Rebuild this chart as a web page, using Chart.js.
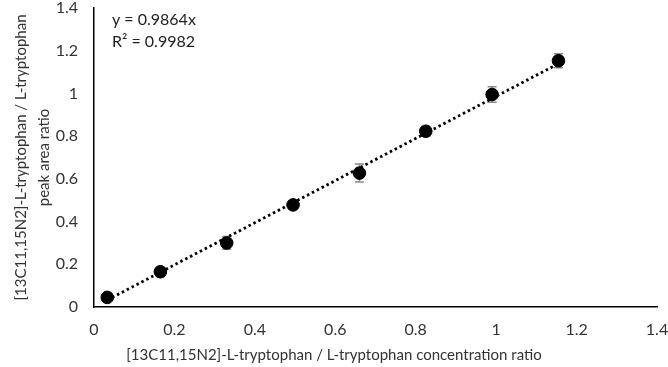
<!DOCTYPE html>
<html>
<head>
<meta charset="utf-8">
<script src="https://cdn.jsdelivr.net/npm/chart.js@4/dist/chart.umd.min.js"></script>
<style>
html,body{margin:0;padding:0;background:#fff;}
#wrap{width:668px;height:367px;position:relative;}
</style>
</head>
<body>
<div id="wrap"><canvas id="c" width="668" height="367"></canvas></div>
<script>
const concRatio = [0.033, 0.165, 0.33, 0.495, 0.66, 0.825, 0.99, 1.155];
const areaRatio = [0.045, 0.165, 0.300, 0.478, 0.627, 0.823, 0.995, 1.153];
const errorSD   = [0.006, 0.010, 0.030, 0.020, 0.042, 0.022, 0.036, 0.033];
const slope = 0.9864;
const rSquared = 0.9982;
const axisTicks = [0, 0.2, 0.4, 0.6, 0.8, 1, 1.2, 1.4];
const xTitle = '[13C11,15N2]-L-tryptophan / L-tryptophan concentration ratio';
const yTitle = ['[13C11,15N2]-L-tryptophan / L-tryptophan', 'peak area ratio'];

const points = concRatio.map((x, i) => ({x: x, y: areaRatio[i], e: errorSD[i]}));
const xMin = Math.min(...concRatio), xMax = Math.max(...concRatio);
const trend = [{x: xMin, y: slope * xMin}, {x: xMax, y: slope * xMax}];

const FONT = 'Lato, "Open Sans", sans-serif';
const TXT = '#333';

const errorBars = {
  id: 'errorBars',
  beforeDatasetsDraw(chart) {
    const ctx = chart.ctx, xs = chart.scales.x, ys = chart.scales.y;
    ctx.save();
    ctx.strokeStyle = '#8c8c8c';
    ctx.lineWidth = 1.5;
    points.forEach(p => {
      const px = xs.getPixelForValue(p.x);
      const top = ys.getPixelForValue(p.y + p.e);
      const bot = ys.getPixelForValue(p.y - p.e);
      ctx.beginPath();
      ctx.moveTo(px, top); ctx.lineTo(px, bot);
      ctx.moveTo(px - 4.5, top); ctx.lineTo(px + 4.5, top);
      ctx.moveTo(px - 4.5, bot); ctx.lineTo(px + 4.5, bot);
      ctx.stroke();
    });
    ctx.restore();
  }
};

const texts = {
  id: 'texts',
  afterDraw(chart) {
    const ctx = chart.ctx, a = chart.chartArea;
    ctx.save();
    ctx.fillStyle = '#222';
    ctx.font = '16px ' + FONT;
    ctx.textBaseline = 'middle';
    ctx.textAlign = 'left';
    ctx.fillText('y = ' + slope + 'x', a.left + 18, 20);
    ctx.fillText('R\u00B2 = ' + rSquared, a.left + 18, 42);
    ctx.fillStyle = TXT;
    ctx.font = '15px ' + FONT;
    ctx.textAlign = 'center';
    ctx.fillText(xTitle, chart.width / 2, 355);
    ctx.restore();
  }
};

new Chart(document.getElementById('c'), {
  type: 'scatter',
  data: {
    datasets: [
      {
        label: 'trend',
        type: 'line',
        data: trend,
        borderColor: '#000',
        borderWidth: 2.8,
        borderDash: [2.5, 3.0],
        pointRadius: 0,
        fill: false,
        order: 2
      },
      {
        label: 'data',
        data: points,
        backgroundColor: '#000',
        borderColor: '#000',
        pointRadius: 6.3,
        pointHoverRadius: 6.3,
        order: 1
      }
    ]
  },
  options: {
    responsive: false,
    animation: false,
    events: [],
    layout: {padding: {top: 8, right: 0, left: 0, bottom: 0}},
    plugins: {legend: {display: false}, tooltip: {enabled: false}},
    scales: {
      x: {
        type: 'linear',
        min: 0, max: 1.4,
        afterBuildTicks: s => { s.ticks = axisTicks.map(v => ({value: v})); },
        afterFit: s => { s.height = 60; s.paddingLeft = 0; s.paddingRight = 11; s.paddingTop = 0; s.paddingBottom = 0; },
        grid: {display: false, drawTicks: false},
        border: {display: true, color: '#000', width: 1.5},
        ticks: {color: TXT, font: {family: FONT, size: 16}, padding: 13,
                callback: v => String(v)},
        title: {display: false}
      },
      y: {
        type: 'linear',
        min: 0, max: 1.4,
        afterBuildTicks: s => { s.ticks = axisTicks.map(v => ({value: v})); },
        afterFit: s => { s.width = 94; s.paddingTop = 0; s.paddingBottom = 0; s.paddingLeft = 0; s.paddingRight = 0; },
        grid: {display: false, drawTicks: false},
        border: {display: true, color: '#000', width: 1.5},
        ticks: {color: TXT, font: {family: FONT, size: 16}, padding: 16,
                callback: v => String(v)},
        title: {display: true, text: yTitle, color: TXT, font: {family: FONT, size: 15, lineHeight: 1.5}, padding: {top: 10, bottom: 2}}
      }
    }
  },
  plugins: [errorBars, texts]
});
</script>
</body>
</html>
